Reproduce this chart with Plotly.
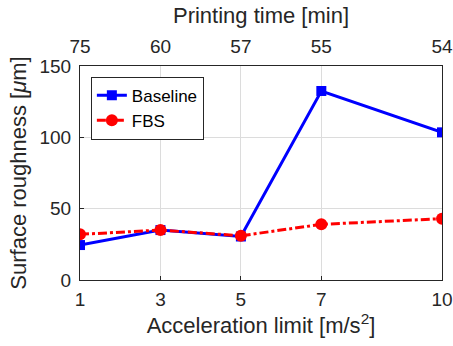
import plotly.graph_objects as go

accel = [1, 3, 5, 7, 10]
print_time = ["75", "60", "57", "55", "54"]
baseline = [24.5, 35, 30.5, 132.5, 103.5]
fbs = [32, 35, 31, 39, 43]

font = "Liberation Sans, Arial, sans-serif"

fig = go.Figure()
fig.add_trace(go.Scatter(x=accel, y=baseline, name="Baseline", mode="lines+markers",
                         line=dict(color="#0000ff", width=3),
                         marker=dict(symbol="square", size=10, color="#0000ff")))
fig.add_trace(go.Scatter(x=accel, y=fbs, name="FBS", mode="lines+markers",
                         line=dict(color="#ff0000", width=3, dash="dashdot"),
                         marker=dict(symbol="circle", size=12, color="#ff0000")))
fig.add_trace(go.Scatter(x=accel, y=[None]*len(accel), xaxis="x2", showlegend=False,
                         hoverinfo="skip", mode="lines"))

axis_common = dict(showline=True, linecolor="#262626", linewidth=1, mirror=True,
                   ticks="inside", ticklen=4, tickcolor="#262626", automargin=False,
                   showgrid=True, gridcolor="#dcdcdc", gridwidth=1, zeroline=False,
                   tickfont=dict(size=19, color="#262626", family=font))

fig.update_layout(
    width=453, height=346,
    margin=dict(l=80, r=11, t=66, b=66),
    plot_bgcolor="white", paper_bgcolor="white",
    font=dict(family=font, color="#262626"),
    xaxis=dict(range=[1, 10], tickvals=accel, ticktext=[str(a) for a in accel],
               ticklabelstandoff=2,
               title=dict(text="Acceleration limit [m/s<sup>2</sup>]", font=dict(size=22), standoff=4),
               **axis_common),
    xaxis2=dict(range=[1, 10], tickvals=accel, ticktext=print_time, overlaying="x", side="top",
                anchor="y", showline=False, ticks="", showgrid=False, zeroline=False,
                automargin=False, ticklabelstandoff=8,
                tickfont=dict(size=19, color="#262626", family=font),
                title=dict(text="Printing time [min]", font=dict(size=22), standoff=6)),
    yaxis=dict(range=[0, 150], tickvals=[0, 50, 100, 150], ticklabelstandoff=4,
               title=dict(text="Surface roughness [<i>μ</i>m]", font=dict(size=22), standoff=6),
               **axis_common),
    legend=dict(x=0.03, y=0.95, xanchor="left", yanchor="top",
                bgcolor="white", bordercolor="#262626", borderwidth=1,
                font=dict(size=17, color="#000000"), tracegroupgap=0, itemwidth=30),
)

fig.write_html("out.html", config={"displayModeBar": False},
               post_script="document.body.style.margin='0';")
